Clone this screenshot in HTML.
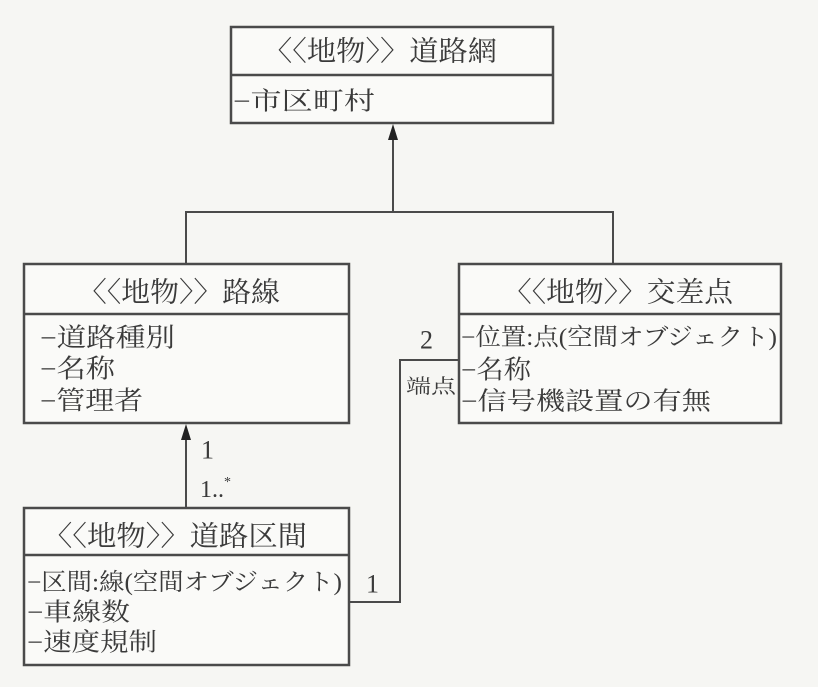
<!DOCTYPE html>
<html><head><meta charset="utf-8"><style>
html,body{margin:0;padding:0;background:#f6f6f3;}
svg{display:block;}
text{font-family:"Liberation Serif","Noto Serif CJK SC","Noto Sans CJK JP",serif;fill:#3a3a3a;dominant-baseline:central;}
</style></head><body>
<svg width="818" height="687" viewBox="0 0 818 687" xmlns="http://www.w3.org/2000/svg">
<rect width="818" height="687" fill="#f6f6f3"/>
<g stroke="#4a4a4a" stroke-width="2.5" fill="#fafaf8">
<rect x="231" y="27" width="322" height="96"/>
<line x1="231" y1="75" x2="553" y2="75"/>
<rect x="24" y="264" width="325" height="159"/>
<line x1="24" y1="314" x2="349" y2="314"/>
<rect x="459" y="264" width="322" height="159"/>
<line x1="459" y1="314" x2="781" y2="314"/>
<rect x="24" y="508" width="325" height="157"/>
<line x1="24" y1="555" x2="349" y2="555"/>
</g>
<g stroke="#4a4a4a" stroke-width="2" fill="none">
<line x1="393" y1="135" x2="393" y2="212"/>
<polyline points="186,264 186,212 613,212 613,264"/>
<line x1="186" y1="437" x2="186" y2="508"/>
<polyline points="349,602 400,602 400,360 459,360"/>
</g>
<g fill="#222">
<polygon points="393,124 388,140 398,140"/>
<polygon points="186,424 181,440 191,440"/>
</g>
<text x="263" y="52" font-size="28" textLength="234" lengthAdjust="spacingAndGlyphs">〈〈地物〉〉道路網</text>
<text x="233" y="102" font-size="25" textLength="142" lengthAdjust="spacingAndGlyphs">−市区町村</text>
<text x="78" y="293" font-size="28" textLength="202" lengthAdjust="spacingAndGlyphs">〈〈地物〉〉路線</text>
<text x="40" y="338" font-size="26" textLength="135" lengthAdjust="spacingAndGlyphs">−道路種別</text>
<text x="40" y="369" font-size="26" textLength="75" lengthAdjust="spacingAndGlyphs">−名称</text>
<text x="40" y="401" font-size="26" textLength="103" lengthAdjust="spacingAndGlyphs">−管理者</text>
<text x="503" y="293" font-size="28" textLength="230" lengthAdjust="spacingAndGlyphs">〈〈地物〉〉交差点</text>
<text x="461" y="338" font-size="24" textLength="316" lengthAdjust="spacingAndGlyphs">−位置:点(空間オブジェクト)</text>
<text x="461" y="370" font-size="26" textLength="70" lengthAdjust="spacingAndGlyphs">−名称</text>
<text x="461" y="402" font-size="25" textLength="250" lengthAdjust="spacingAndGlyphs">−信号機設置の有無</text>
<text x="43" y="537" font-size="28" textLength="264" lengthAdjust="spacingAndGlyphs">〈〈地物〉〉道路区間</text>
<text x="27" y="583" font-size="24" textLength="315" lengthAdjust="spacingAndGlyphs">−区間:線(空間オブジェクト)</text>
<text x="27" y="613" font-size="25" textLength="103" lengthAdjust="spacingAndGlyphs">−車線数</text>
<text x="27" y="643" font-size="25" textLength="130" lengthAdjust="spacingAndGlyphs">−速度規制</text>
<text x="201" y="450" font-size="26">1</text>
<text x="200" y="490" font-size="24">1..<tspan font-size="14" dy="-8">*</tspan></text>
<text x="366" y="584" font-size="26">1</text>
<text x="420" y="340" font-size="26">2</text>
<text x="406" y="387" font-size="20" textLength="50" lengthAdjust="spacingAndGlyphs">端点</text>
</svg>
</body></html>
